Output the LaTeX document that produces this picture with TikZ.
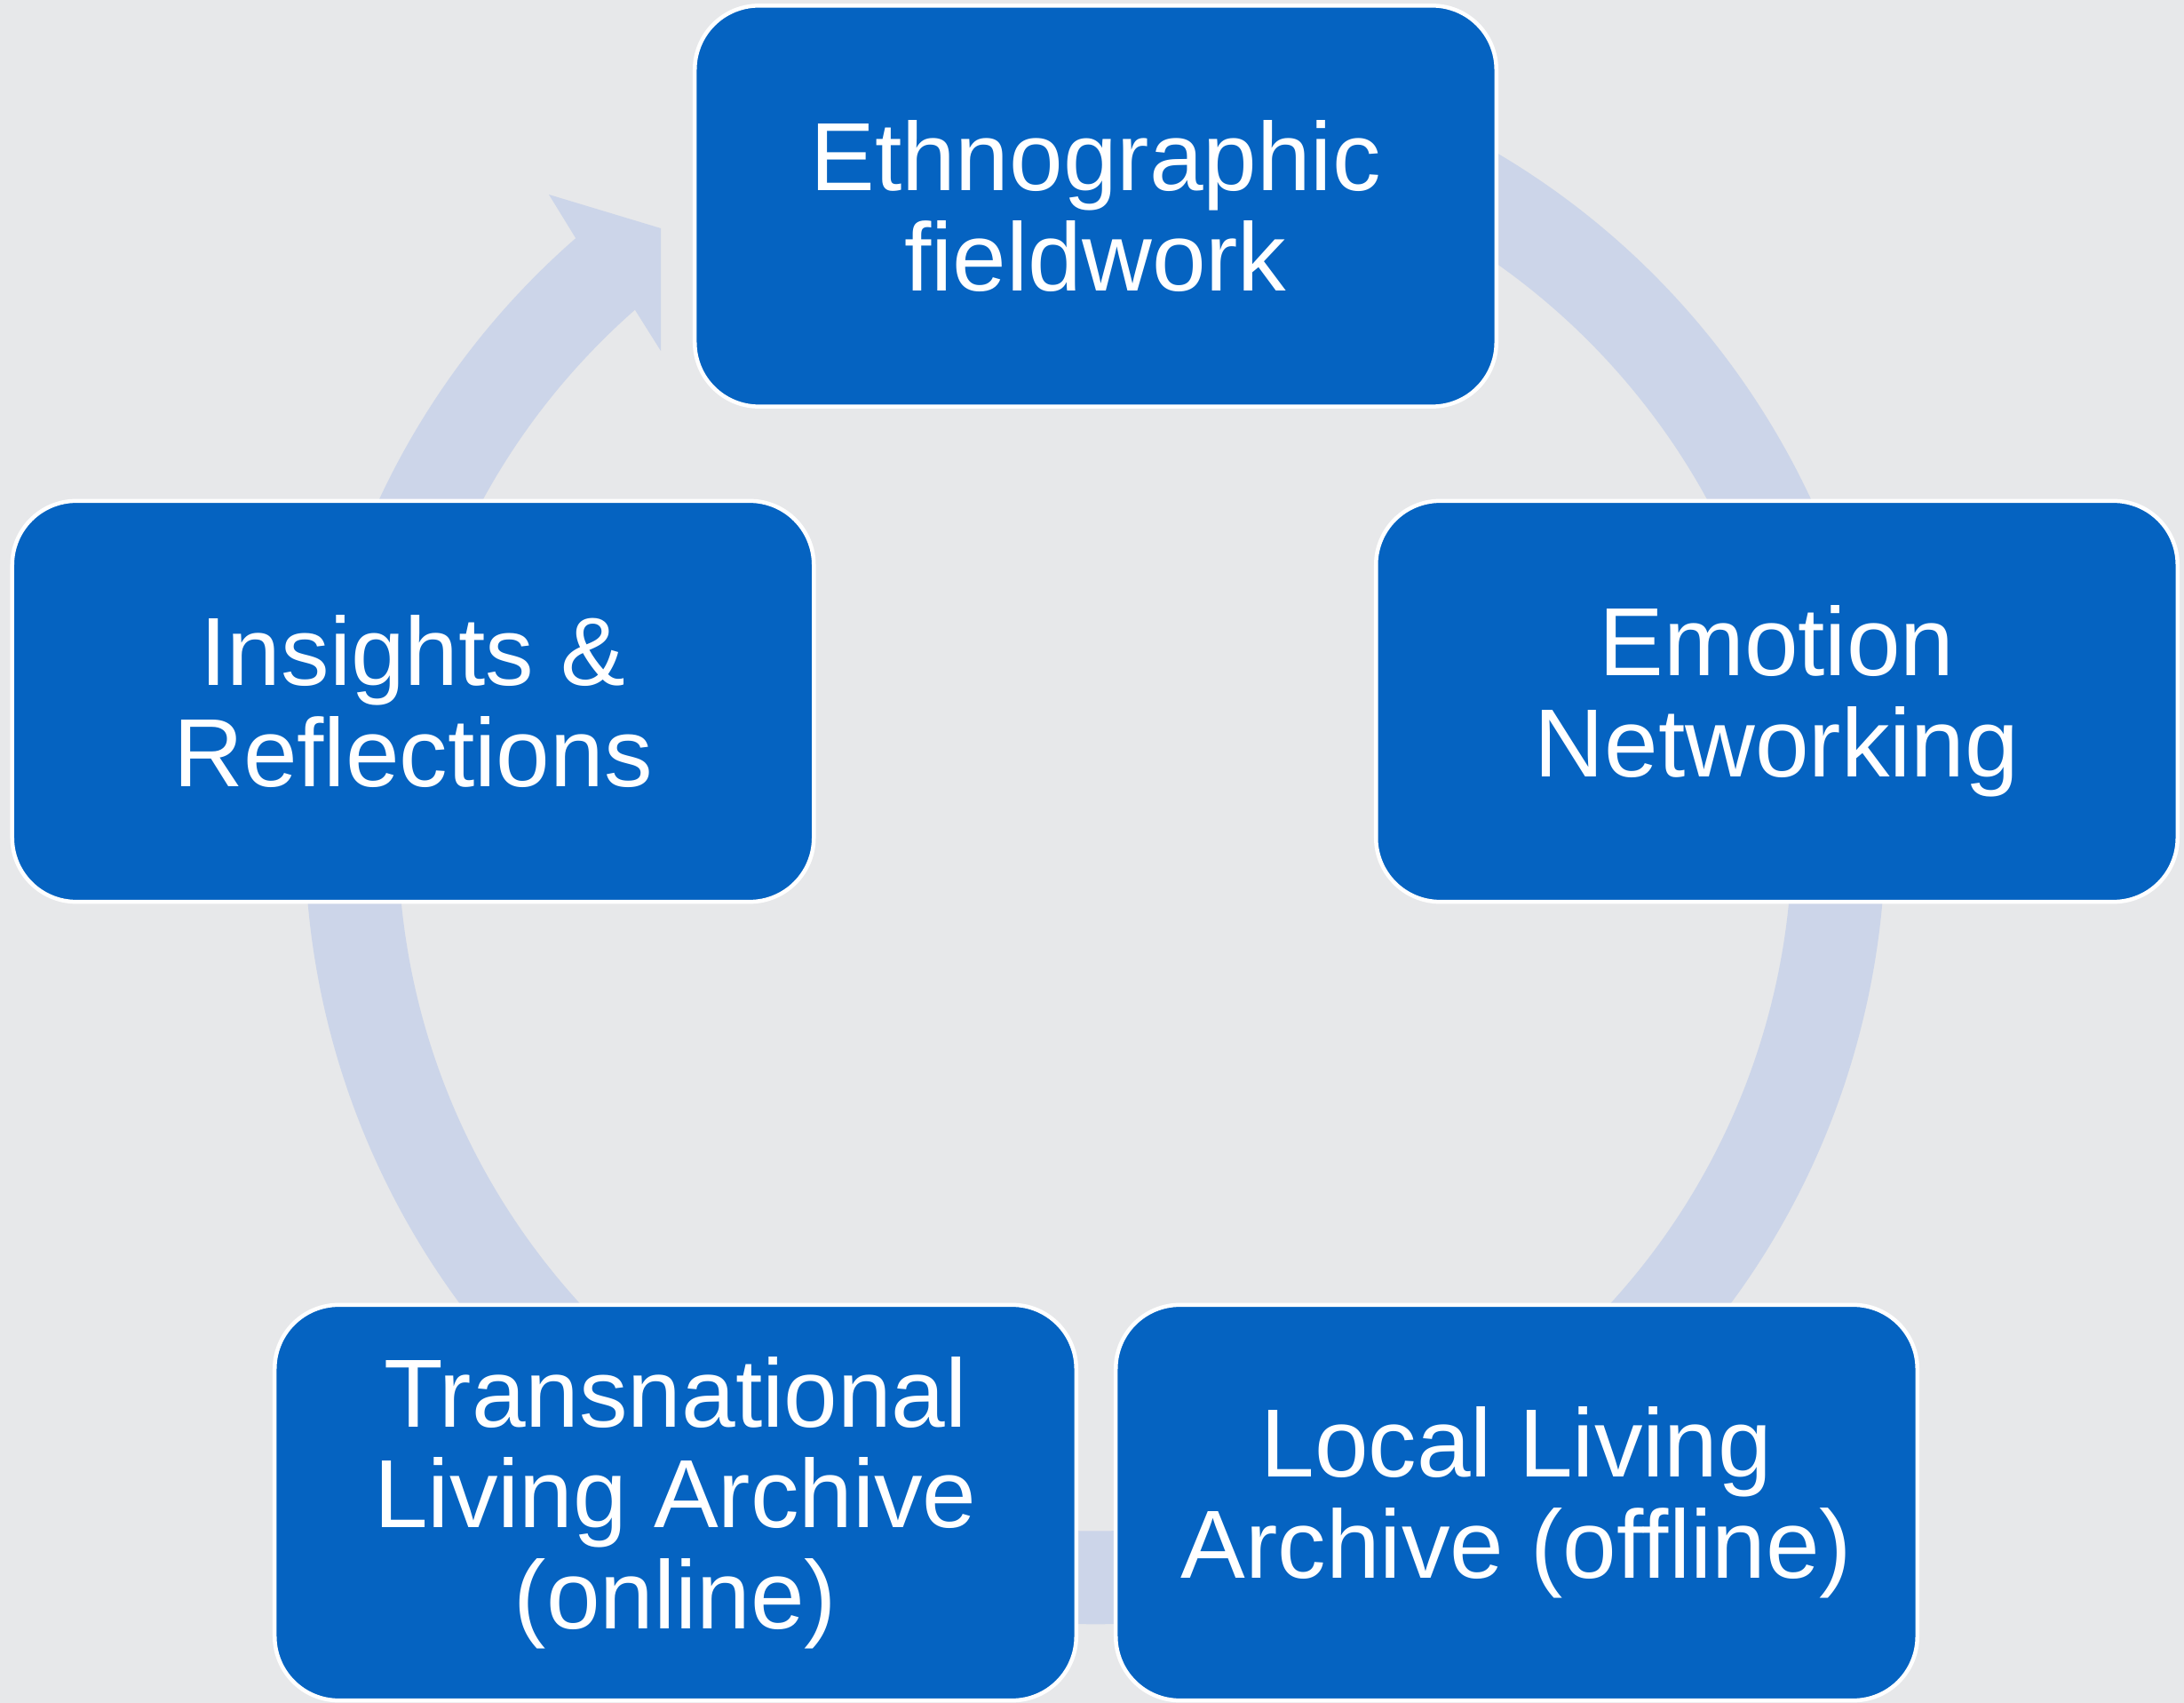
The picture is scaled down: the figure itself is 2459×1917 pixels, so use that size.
\documentclass[tikz,border=0pt]{standalone}
\usepackage{fontspec}
\setmainfont{Liberation Sans}
\definecolor{bgc}{HTML}{E7E8EA}
\definecolor{ringc}{HTML}{CCD5E9}
\definecolor{boxc}{HTML}{0563C1}
\begin{document}
\begin{tikzpicture}[x=0.01cm,y=0.01cm,
  stage/.style={draw=white, line width=0.045cm, fill=boxc, rounded corners=0.72cm,
    minimum width=9.02cm, minimum height=4.51cm, text=white, align=center,
    font=\fontsize{31}{32.3}\selectfont, inner sep=0pt},
  ringfill/.style={fill=ringc}]
\fill[bgc] (0,0) rectangle (2459,1917);
\useasboundingbox (0,0) rectangle (2459,1917);
% circular arrow ring
\coordinate (c) at (1233,978.5);
\coordinate (b1) at (618,1698);
\coordinate (tip) at (744,1660);
\coordinate (b2) at (744,1522);
\fill[ringfill] ([shift={(c)}]75:889.6) arc[start angle=75, end angle=-228.9, radius=889.6]
  -- (b1) -- (tip) -- (b2)
  -- ([shift={(c)}]-228.7:785) arc[start angle=-228.7, end angle=75, radius=785] -- cycle;
% stages
\node[stage] (eth) at (1233.5,1685) {Ethnographic\\fieldwork};
\node[stage] (emo) at (2000.5,1127.5) {Emotion\\Networking};
\node[stage, minimum height=4.45cm] (loc) at (1707.5,225.5) {Local Living\\Archive (offline)};
\node[stage, minimum height=4.45cm] (tra) at (760.5,225.5) {Transnational\\Living Archive\\(online)};
\node[stage] (ins) at (465,1127.5) {Insights \&\\Reflections};
\end{tikzpicture}
\end{document}
